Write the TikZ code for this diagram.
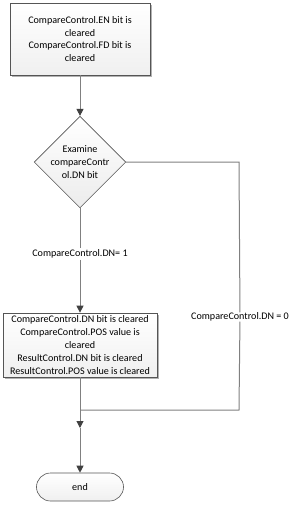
\documentclass[tikz,border=0pt]{standalone}
\usepackage{fontspec}
\setmainfont{Carlito}
\usetikzlibrary{arrows.meta,shapes.geometric,shapes.misc,shadows}
\definecolor{edge}{HTML}{555555}
\definecolor{conn}{HTML}{808080}
\definecolor{tipc}{HTML}{404040}
\begin{document}
\begin{tikzpicture}[x=1pt,y=-1pt,
  every node/.style={font=\fontsize{10.1}{12.8}\selectfont},
  procbox/.style={draw=edge, line width=0.7pt, top color=white, bottom color=gray!12, align=center, inner sep=0pt,
    drop shadow={shadow xshift=2pt, shadow yshift=-2pt, fill=gray!60, opacity=1}},
  decision/.style={diamond, draw=edge, line width=0.6pt, top color=white, bottom color=gray!15, align=center, inner sep=0pt, minimum width=88pt, minimum height=64pt},
  term/.style={rounded rectangle, draw=edge, line width=0.6pt, top color=white, bottom color=gray!12, minimum width=87pt, minimum height=28pt, inner sep=0pt},
  conn/.style={draw=conn, line width=1pt},
  arr/.style={conn, -{Triangle[length=7pt,width=7pt,color=tipc]}},
  lbl/.style={inner sep=0pt}
]
\useasboundingbox (0,0) rectangle (296,509);
\node[procbox, minimum width=140pt, minimum height=72pt] (b1) at (80,39)
  {CompareControl.EN bit is\\cleared\\CompareControl.FD bit is\\cleared};
\node[decision] (d) at (80,162) {Examine\\compareContr\\ol.DN bit};
\node[procbox, minimum width=154pt, minimum height=64pt] (b2) at (80,345)
  {CompareControl.DN bit is cleared\\CompareControl.POS value is\\cleared\\ResultControl.DN bit is cleared\\ResultControl.POS value is cleared};
\node[term] (e) at (80,487) {end};
\node[lbl, fill=white, inner sep=1pt] (l1) at (80,254) {CompareControl.DN= 1};
\node[lbl] (l0) at (240,317) {CompareControl.DN = 0};
\coordinate (j) at (80,410);
\coordinate (m) at (80,428);
\coordinate (r1) at (239,162);
\coordinate (r2) at (239,410);
\draw[arr] (b1) -- (d);
\draw[conn] (d) -- (l1);
\draw[arr] (l1) -- (b2);
\draw[conn] (d.east) -- (r1) -- (l0);
\draw[conn] (l0) -- (r2) -- (j);
\draw[conn] (b2) -- (j);
\draw[arr] (j) -- (m);
\draw[arr] (m) -- (e);
\end{tikzpicture}
\end{document}
